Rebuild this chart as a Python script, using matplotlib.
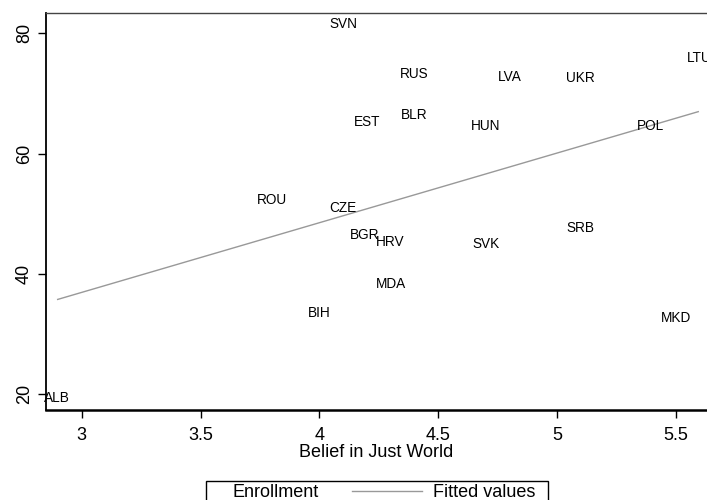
import matplotlib
matplotlib.use("Agg")
import matplotlib.pyplot as plt
from matplotlib.lines import Line2D
from matplotlib.patches import Rectangle

plt.rcParams['font.family'] = ['Liberation Sans', 'DejaVu Sans']

countries = ["SVN", "RUS", "LVA", "UKR", "LTU", "EST", "BLR", "HUN", "POL", "SRB",
             "ROU", "CZE", "BGR", "HRV", "SVK", "MDA", "BIH", "MKD", "ALB"]
belief = [4.10, 4.40, 4.80, 5.10, 5.597, 4.20, 4.40, 4.70, 5.395, 5.10,
          3.80, 4.10, 4.19, 4.30, 4.70, 4.30, 4.00, 5.50, 2.896]
enrollment = [81.5, 73.3, 72.7, 72.5, 75.9, 65.2, 66.4, 64.5, 64.6, 47.6,
              52.3, 50.9, 46.4, 45.3, 44.9, 38.3, 33.5, 32.6, 19.3]
fit_x = [2.896, 5.597]
fit_y = [35.7, 67.0]
xticks = [3, 3.5, 4, 4.5, 5, 5.5]
xticklabels = ["3", "3.5", "4", "4.5", "5", "5.5"]
yticks = [20, 40, 60, 80]
yticklabels = ["20", "40", "60", "80"]

W, H = 707, 500
fig = plt.figure(figsize=(W / 100, H / 100), dpi=100)
ax = fig.add_axes([45.6 / W, (H - 410) / H, (W - 45.6) / W, 397 / H])

ax.plot(fit_x, fit_y, color="#999999", linewidth=1.0, solid_capstyle="butt")
for name, xv, yv in zip(countries, belief, enrollment):
    ax.text(xv, yv, name, ha="center", va="center", fontsize=9.8, color="black",
            clip_on=False)

ax.set_xlim(2.848, 5.631)
ax.set_ylim(17.34, 83.38)
ax.set_xticks(xticks)
ax.set_xticklabels(xticklabels)
ax.set_yticks(yticks)
ax.set_yticklabels(yticklabels, rotation=90, va="center")
ax.tick_params(axis="both", direction="out", length=6, width=1.0, colors="black",
               labelsize=13)
ax.tick_params(axis="x", pad=6)
ax.tick_params(axis="y", pad=3)
ax.set_xlabel("Belief in Just World", fontsize=13, labelpad=0)

ax.spines["right"].set_visible(False)
ax.spines["top"].set_color("#444444")
ax.spines["top"].set_linewidth(1.0)
ax.spines["left"].set_color("black")
ax.spines["left"].set_linewidth(1.3)
ax.spines["bottom"].set_color("black")
ax.spines["bottom"].set_linewidth(1.8)

# legend (Stata-style box at bottom, partly cut off)
def fx(px):
    return px / W

def fy(py):
    return 1 - py / H

fig.patches.append(Rectangle((fx(206), fy(530)), fx(548) - fx(206), fy(481) - fy(530),
                             transform=fig.transFigure, fill=False,
                             edgecolor="black", linewidth=1.0))
fig.lines.append(Line2D([fx(352), fx(422)], [fy(491), fy(491)],
                        transform=fig.transFigure, color="#999999", linewidth=1.0))
fig.text(fx(233), fy(492.5), "Enrollment", ha="left", va="center", fontsize=13)
fig.text(fx(433), fy(492.5), "Fitted values", ha="left", va="center", fontsize=13)

fig.savefig("out.png", dpi=100)
